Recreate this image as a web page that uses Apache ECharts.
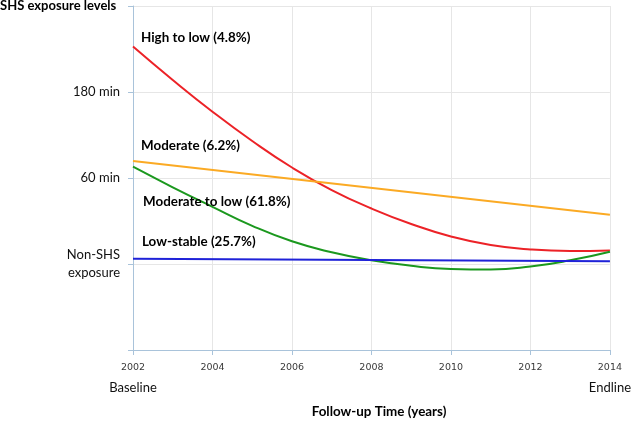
<!DOCTYPE html>
<html>
<head>
<meta charset="utf-8">
<script src="https://cdn.jsdelivr.net/npm/echarts@6/dist/echarts.min.js"></script>
<style>html,body{margin:0;padding:0;background:#fff;}#c{width:634px;height:425px;}</style>
</head>
<body>
<div id="c"></div>
<script>
// Data (y values in exposure-level units: 1 = Non-SHS, 2 = 60 min, 3 = 180 min)
const yearTicks = [2002, 2004, 2006, 2008, 2010, 2012, 2014];
const yearEndLabels = { 2002: 'Baseline', 2014: 'Endline' };
const yLevelLabels = ['', 'Non-SHS\nexposure', '60 min', '180 min', ''];

const curveYears = [2002, 2003, 2004, 2005, 2006, 2007, 2008, 2009, 2010, 2011, 2012, 2013, 2014];
const highToLow = [3.529, 3.140, 2.771, 2.430, 2.122, 1.860, 1.645, 1.465, 1.320, 1.221, 1.169, 1.151, 1.157];
const moderateToLow = [2.131, 1.892, 1.665, 1.444, 1.264, 1.136, 1.043, 0.979, 0.942, 0.935, 0.970, 1.043, 1.143];
const lineYears = [2002, 2014];
const moderate = [2.198, 1.573];
const lowStable = [1.062, 1.032];

const seriesNames = ['High to low (4.8%)', 'Moderate (6.2%)', 'Moderate to low (61.8%)', 'Low-stable (25.7%)'];

const zip = (xs, ys) => xs.map((x, i) => [x, ys[i]]);

const chart = echarts.init(document.getElementById('c'));
const bold = { fontFamily: 'Lato', fontWeight: 'bold', fontSize: 13.4, fill: '#000' };
chart.setOption({
  animation: false,
  grid: { left: 133, right: 21, top: 6, bottom: 75 },
  xAxis: {
    type: 'value', min: 2002, max: 2014, interval: 2,
    axisLine: { lineStyle: { color: '#a9c3da', width: 1 } },
    axisTick: { show: true, length: 5, lineStyle: { color: '#a9c3da' } },
    splitLine: { show: true, lineStyle: { color: '#e6e6e6', width: 1 } },
    axisLabel: {
      margin: 8,
      formatter: v => yearEndLabels[v] ? '{y|' + v + '}\n{b|' + yearEndLabels[v] + '}' : '{y|' + v + '}',
      rich: {
        y: { fontFamily: 'DejaVu Sans', fontSize: 9.5, color: '#3a3a3a', lineHeight: 20 },
        b: { fontFamily: 'Lato', fontSize: 13, color: '#111', lineHeight: 20 }
      }
    }
  },
  yAxis: {
    type: 'value', min: 0, max: 4, interval: 1,
    axisLine: { show: true, lineStyle: { color: '#a9c3da', width: 1 } },
    axisTick: { show: true, length: 5, lineStyle: { color: '#a9c3da' } },
    splitLine: { show: true, lineStyle: { color: '#e6e6e6', width: 1 } },
    axisLabel: {
      margin: 13, fontFamily: 'Lato', fontSize: 13, color: '#111', lineHeight: 18,
      formatter: v => yLevelLabels[Math.round(v)] || ''
    }
  },
  series: [
    { name: seriesNames[0], type: 'line', data: zip(curveYears, highToLow), smooth: 0.5, showSymbol: false, lineStyle: { color: '#ec2227', width: 2 } },
    { name: seriesNames[1], type: 'line', data: zip(lineYears, moderate), showSymbol: false, lineStyle: { color: '#fbaa24', width: 2 } },
    { name: seriesNames[2], type: 'line', data: zip(curveYears, moderateToLow), smooth: 0.5, showSymbol: false, lineStyle: { color: '#1b981e', width: 2 } },
    { name: seriesNames[3], type: 'line', data: zip(lineYears, lowStable), showSymbol: false, lineStyle: { color: '#1f22d8', width: 2 } }
  ],
  graphic: [
    { type: 'text', z: 100, left: 0, top: -1, style: Object.assign({}, bold, { text: 'SHS exposure levels', fontSize: 13 }) },
    { type: 'text', z: 100, left: 141, top: 31, style: Object.assign({ text: seriesNames[0] }, bold) },
    { type: 'text', z: 100, left: 141, top: 139, style: Object.assign({ text: seriesNames[1] }, bold) },
    { type: 'text', z: 100, left: 143, top: 195, style: Object.assign({ text: seriesNames[2] }, bold) },
    { type: 'text', z: 100, left: 142, top: 235, style: Object.assign({ text: seriesNames[3] }, bold) },
    { type: 'text', z: 100, x: 379, y: 412, style: Object.assign({ text: 'Follow-up Time (years)', align: 'center', verticalAlign: 'middle' }, bold) }
  ]
});
</script>
</body>
</html>
